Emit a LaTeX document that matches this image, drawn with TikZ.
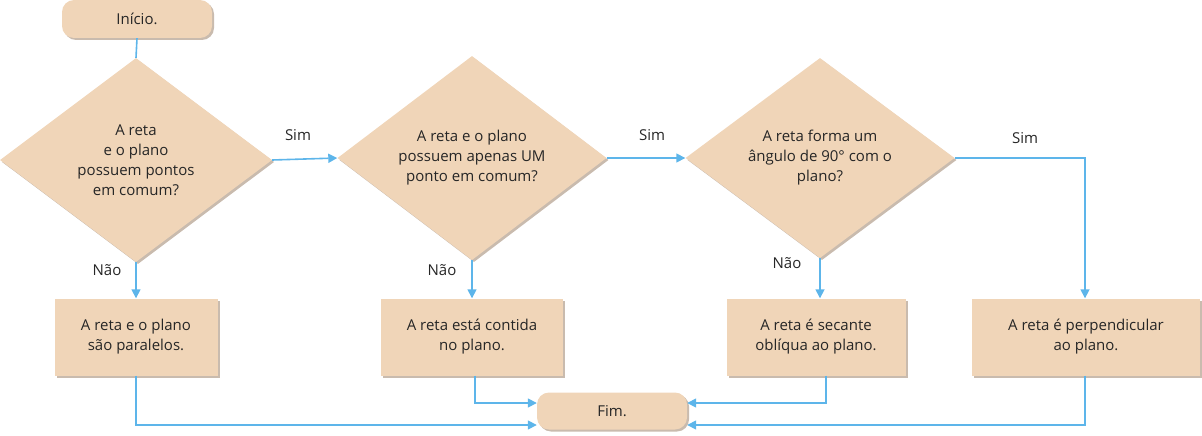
\documentclass[tikz,border=0pt]{standalone}
\usepackage{fontspec}
\setmainfont{Open Sans}
\usetikzlibrary{shapes.geometric,arrows.meta,shadows}
\definecolor{fillc}{HTML}{F0D5B8}
\definecolor{linec}{HTML}{5DB5EA}
\definecolor{shc}{HTML}{C9BBAE}
\begin{document}
\begin{tikzpicture}[x=1pt,y=-1pt,
  every node/.style={font=\fontsize{15}{20}\selectfont, text=black!85},
  sh/.style={drop shadow={shadow xshift=2pt,shadow yshift=-2pt,fill=shc,opacity=1}},
  boxs/.style={fill=fillc,sh,inner sep=0pt,align=center},
  dia/.style={diamond,fill=fillc,sh,inner sep=0pt,align=center,minimum width=#1,minimum height=204pt,aspect=1.33},
  con/.style={linec,line width=1.6pt},
  arr/.style={con,-{Triangle[width=9pt,length=9pt]}},
  lab/.style={font=\fontsize{15}{18}\selectfont}]
\useasboundingbox (0,0) rectangle (1202,436);
\node[boxs,rounded corners=12pt,minimum width=150pt,minimum height=38pt] (ini) at (137,19) {Início.};
\node[dia=272pt] (d1) at (136,160) {A reta\\e o plano\\possuem pontos\\em comum?};
\node[dia=269pt] (d2) at (472,158) {A reta e o plano\\possuem apenas UM\\ponto em comum?};
\node[dia=269pt,minimum height=200pt] (d3) at (820,158) {A reta forma um\\ângulo de 90° com o\\plano?};
\node[boxs,minimum width=163pt,minimum height=77pt] (b1) at (136,337) {A reta e o plano\\são paralelos.};
\node[boxs,minimum width=182pt,minimum height=77pt] (b2) at (472,337) {A reta está contida\\no plano.};
\node[boxs,minimum width=179pt,minimum height=77pt] (b3) at (816,337) {A reta é secante\\oblíqua ao plano.};
\node[boxs,minimum width=228pt,minimum height=77pt] (b4) at (1086,337) {A reta é perpendicular\\ao plano.};
\node[boxs,rounded corners=12pt,minimum width=150pt,minimum height=37pt] (fim) at (612,411) {Fim.};
\draw[con] (ini.south) -- (d1.north);
\draw[arr] (d1.east) -- (d2.west);
\draw[arr] (d2.east) -- (d3.west);
\coordinate (c4) at (1085,158);
\draw[arr] (d3.east) -- (c4) -- (b4.north -| c4);
\draw[arr] (d1.south) -- (b1.north);
\draw[arr] (d2.south) -- (b2.north);
\draw[arr] (d3.south) -- (b3.north -| d3.south);
\coordinate (f1) at (136,425); \coordinate (f2) at (475,403);
\coordinate (f3) at (826,403); \coordinate (f4) at (1085,425);
\draw[arr] (b1.south) -- (f1) -- (fim.west |- f1);
\draw[arr] (b2.south -| f2) -- (f2) -- (fim.west |- f2);
\draw[arr] (b3.south -| f3) -- (f3) -- (fim.east |- f3);
\draw[arr] (b4.south -| f4) -- (f4) -- (fim.east |- f4);
\node[lab] at (298,135) {Sim};
\node[lab] at (652,135) {Sim};
\node[lab] at (1025,138) {Sim};
\node[lab] at (107,270) {Não};
\node[lab] at (442,270) {Não};
\node[lab] at (787,263) {Não};
\end{tikzpicture}
\end{document}
